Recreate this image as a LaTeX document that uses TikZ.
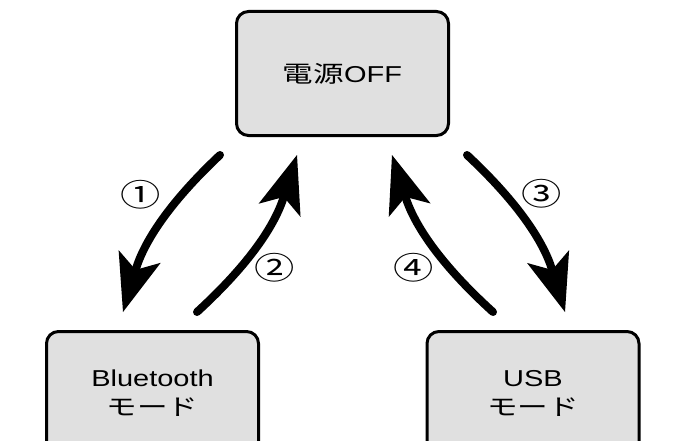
\documentclass[tikz,border=0pt]{standalone}
\usepackage{fontspec}
\setmainfont{Liberation Sans}[FakeStretch=1.26]
\newfontfamily\jp{Noto Sans CJK JP}[FakeStretch=1.33]
\newfontfamily\jpnum{Noto Sans CJK JP}[FakeStretch=1.3]
\newcommand\J[1]{{\jp #1}}
\usetikzlibrary{arrows.meta}
\definecolor{boxgray}{RGB}{224,224,224}
\begin{document}
\begin{tikzpicture}[x=1pt,y=1pt,
  box/.style={draw=black, line width=3pt, fill=boxgray, rounded corners=12pt,
    minimum width=212pt, minimum height=124pt, inner sep=0pt, align=center,
    font=\fontsize{23pt}{29pt}\selectfont},
  flow/.style={line width=8pt, line cap=round,
    -{Stealth[length=58pt,width=44pt,inset=14pt,line width=0pt]}},
  num/.style={font=\jpnum\fontsize{31pt}{31pt}\selectfont, inner sep=0pt}]
\useasboundingbox (0,0) rectangle (693,440);
\node[box] (off) at (342.5,366.5) {\J{電源}OFF};
\node[box] (bt) at (152.5,46.5) {Bluetooth\\\J{モード}};
\node[box] (usb) at (533,46.5) {USB\\\J{モード}};
\coordinate (a1s) at (220,285);
\coordinate (a1e) at (123,128);
\coordinate (a2s) at (197,128);
\coordinate (a2e) at (297,285);
\coordinate (a3s) at (467,285);
\coordinate (a3e) at (565,128);
\coordinate (a4s) at (493,128);
\coordinate (a4e) at (392,285);
\draw[flow] (a1s) to[bend right=15] (a1e);
\draw[flow] (a2s) to[bend right=15] (a2e);
\draw[flow] (a3s) to[bend left=15] (a3e);
\draw[flow] (a4s) to[bend left=15] (a4e);
\node[num] (n1) at (141,245.5) {①};
\node[num] (n2) at (275,172) {②};
\node[num] (n3) at (542,246) {③};
\node[num] (n4) at (414,172) {④};
\end{tikzpicture}
\end{document}
